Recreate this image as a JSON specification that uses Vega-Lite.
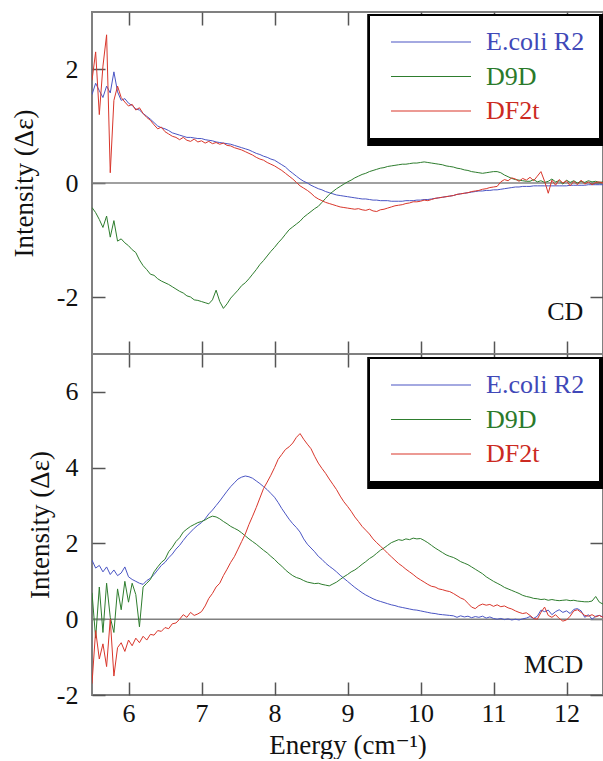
{
"$schema": "https://vega.github.io/schema/vega-lite/v6.json",
"background": "white",
"padding": {"left": 9, "top": 10, "right": 0, "bottom": 0},
"spacing": 0,
"bounds": "flush",
"config": {
  "font": "Liberation Serif, Times New Roman, DejaVu Serif, serif",
  "view": {"stroke": "#808080", "strokeWidth": 2},
  "axis": {"grid": false, "domain": false, "tickColor": "#555555", "tickWidth": 1.5, "labelFont": "Liberation Serif, Times New Roman, DejaVu Serif, serif", "labelFontSize": 26, "labelColor": "#111111", "titleFont": "Liberation Serif, Times New Roman, DejaVu Serif, serif", "titleFontSize": 27, "titleFontWeight": "normal", "titleColor": "#111111", "labelExpr": "replace(datum.label, '−', '-')"},
  "legend": {"labelFont": "Liberation Serif, Times New Roman, DejaVu Serif, serif"},
  "text": {"font": "Liberation Serif, Times New Roman, DejaVu Serif, serif"}
},
"datasets": {
"cd": [
{"e":5.50,"R2":1.55,"D9D":-0.43,"DF2t":1.80},
{"e":5.55,"R2":1.75,"D9D":-0.52,"DF2t":2.30},
{"e":5.60,"R2":1.62,"D9D":-0.64,"DF2t":1.20},
{"e":5.65,"R2":1.50,"D9D":-0.78,"DF2t":2.05},
{"e":5.70,"R2":1.70,"D9D":-0.58,"DF2t":2.60},
{"e":5.75,"R2":1.58,"D9D":-0.95,"DF2t":0.18},
{"e":5.80,"R2":1.95,"D9D":-0.66,"DF2t":1.45},
{"e":5.85,"R2":1.60,"D9D":-1.02,"DF2t":1.70},
{"e":5.90,"R2":1.45,"D9D":-0.98,"DF2t":1.50},
{"e":5.95,"R2":1.48,"D9D":-1.05,"DF2t":1.42},
{"e":6.00,"R2":1.40,"D9D":-1.10,"DF2t":1.35},
{"e":6.05,"R2":1.36,"D9D":-1.17,"DF2t":1.38},
{"e":6.10,"R2":1.30,"D9D":-1.22,"DF2t":1.28},
{"e":6.15,"R2":1.28,"D9D":-1.35,"DF2t":1.32},
{"e":6.20,"R2":1.22,"D9D":-1.45,"DF2t":1.22},
{"e":6.25,"R2":1.17,"D9D":-1.52,"DF2t":1.15},
{"e":6.30,"R2":1.12,"D9D":-1.60,"DF2t":1.10},
{"e":6.35,"R2":1.06,"D9D":-1.62,"DF2t":1.02},
{"e":6.40,"R2":1.00,"D9D":-1.68,"DF2t":0.95},
{"e":6.45,"R2":0.97,"D9D":-1.72,"DF2t":0.98},
{"e":6.50,"R2":0.95,"D9D":-1.75,"DF2t":0.90},
{"e":6.55,"R2":0.92,"D9D":-1.78,"DF2t":0.86},
{"e":6.60,"R2":0.88,"D9D":-1.82,"DF2t":0.82},
{"e":6.65,"R2":0.86,"D9D":-1.86,"DF2t":0.80},
{"e":6.70,"R2":0.84,"D9D":-1.90,"DF2t":0.76},
{"e":6.75,"R2":0.82,"D9D":-1.93,"DF2t":0.80},
{"e":6.80,"R2":0.80,"D9D":-1.98,"DF2t":0.75},
{"e":6.85,"R2":0.80,"D9D":-2.00,"DF2t":0.73},
{"e":6.90,"R2":0.79,"D9D":-2.05,"DF2t":0.77},
{"e":6.95,"R2":0.78,"D9D":-2.06,"DF2t":0.72},
{"e":7.00,"R2":0.78,"D9D":-2.08,"DF2t":0.74},
{"e":7.05,"R2":0.76,"D9D":-2.10,"DF2t":0.70},
{"e":7.10,"R2":0.75,"D9D":-2.12,"DF2t":0.73},
{"e":7.15,"R2":0.74,"D9D":-2.05,"DF2t":0.69},
{"e":7.20,"R2":0.72,"D9D":-1.88,"DF2t":0.71},
{"e":7.25,"R2":0.71,"D9D":-2.08,"DF2t":0.68},
{"e":7.30,"R2":0.70,"D9D":-2.20,"DF2t":0.70},
{"e":7.35,"R2":0.69,"D9D":-2.12,"DF2t":0.66},
{"e":7.40,"R2":0.68,"D9D":-2.02,"DF2t":0.65},
{"e":7.45,"R2":0.66,"D9D":-1.95,"DF2t":0.62},
{"e":7.50,"R2":0.64,"D9D":-1.88,"DF2t":0.60},
{"e":7.55,"R2":0.62,"D9D":-1.80,"DF2t":0.58},
{"e":7.60,"R2":0.60,"D9D":-1.75,"DF2t":0.55},
{"e":7.65,"R2":0.58,"D9D":-1.68,"DF2t":0.52},
{"e":7.70,"R2":0.55,"D9D":-1.60,"DF2t":0.49},
{"e":7.75,"R2":0.52,"D9D":-1.52,"DF2t":0.45},
{"e":7.80,"R2":0.50,"D9D":-1.43,"DF2t":0.42},
{"e":7.85,"R2":0.47,"D9D":-1.36,"DF2t":0.40},
{"e":7.90,"R2":0.45,"D9D":-1.28,"DF2t":0.36},
{"e":7.95,"R2":0.42,"D9D":-1.20,"DF2t":0.33},
{"e":8.00,"R2":0.40,"D9D":-1.13,"DF2t":0.30},
{"e":8.05,"R2":0.36,"D9D":-1.05,"DF2t":0.26},
{"e":8.10,"R2":0.32,"D9D":-0.98,"DF2t":0.22},
{"e":8.15,"R2":0.28,"D9D":-0.90,"DF2t":0.17},
{"e":8.20,"R2":0.22,"D9D":-0.82,"DF2t":0.12},
{"e":8.25,"R2":0.17,"D9D":-0.77,"DF2t":0.07},
{"e":8.30,"R2":0.12,"D9D":-0.72,"DF2t":0.01},
{"e":8.35,"R2":0.07,"D9D":-0.67,"DF2t":-0.05},
{"e":8.40,"R2":0.03,"D9D":-0.60,"DF2t":-0.09},
{"e":8.45,"R2":0.00,"D9D":-0.55,"DF2t":-0.13},
{"e":8.50,"R2":-0.04,"D9D":-0.50,"DF2t":-0.18},
{"e":8.55,"R2":-0.07,"D9D":-0.45,"DF2t":-0.24},
{"e":8.60,"R2":-0.10,"D9D":-0.41,"DF2t":-0.28},
{"e":8.65,"R2":-0.12,"D9D":-0.34,"DF2t":-0.31},
{"e":8.70,"R2":-0.15,"D9D":-0.27,"DF2t":-0.34},
{"e":8.75,"R2":-0.17,"D9D":-0.20,"DF2t":-0.36},
{"e":8.80,"R2":-0.19,"D9D":-0.15,"DF2t":-0.38},
{"e":8.85,"R2":-0.21,"D9D":-0.10,"DF2t":-0.40},
{"e":8.90,"R2":-0.22,"D9D":-0.06,"DF2t":-0.42},
{"e":8.95,"R2":-0.23,"D9D":-0.02,"DF2t":-0.43},
{"e":9.00,"R2":-0.24,"D9D":0.02,"DF2t":-0.44},
{"e":9.05,"R2":-0.25,"D9D":0.05,"DF2t":-0.45},
{"e":9.10,"R2":-0.26,"D9D":0.09,"DF2t":-0.46},
{"e":9.15,"R2":-0.27,"D9D":0.12,"DF2t":-0.45},
{"e":9.20,"R2":-0.28,"D9D":0.15,"DF2t":-0.47},
{"e":9.25,"R2":-0.28,"D9D":0.17,"DF2t":-0.48},
{"e":9.30,"R2":-0.29,"D9D":0.20,"DF2t":-0.46},
{"e":9.35,"R2":-0.30,"D9D":0.22,"DF2t":-0.49},
{"e":9.40,"R2":-0.30,"D9D":0.24,"DF2t":-0.50},
{"e":9.45,"R2":-0.31,"D9D":0.26,"DF2t":-0.47},
{"e":9.50,"R2":-0.31,"D9D":0.27,"DF2t":-0.46},
{"e":9.55,"R2":-0.31,"D9D":0.29,"DF2t":-0.44},
{"e":9.60,"R2":-0.32,"D9D":0.30,"DF2t":-0.42},
{"e":9.65,"R2":-0.32,"D9D":0.31,"DF2t":-0.40},
{"e":9.70,"R2":-0.32,"D9D":0.32,"DF2t":-0.39},
{"e":9.75,"R2":-0.32,"D9D":0.33,"DF2t":-0.38},
{"e":9.80,"R2":-0.31,"D9D":0.33,"DF2t":-0.36},
{"e":9.85,"R2":-0.31,"D9D":0.34,"DF2t":-0.35},
{"e":9.90,"R2":-0.31,"D9D":0.35,"DF2t":-0.33},
{"e":9.95,"R2":-0.30,"D9D":0.35,"DF2t":-0.33},
{"e":10.00,"R2":-0.30,"D9D":0.36,"DF2t":-0.32},
{"e":10.05,"R2":-0.29,"D9D":0.37,"DF2t":-0.30},
{"e":10.10,"R2":-0.29,"D9D":0.36,"DF2t":-0.31},
{"e":10.15,"R2":-0.28,"D9D":0.35,"DF2t":-0.29},
{"e":10.20,"R2":-0.27,"D9D":0.34,"DF2t":-0.27},
{"e":10.25,"R2":-0.26,"D9D":0.33,"DF2t":-0.26},
{"e":10.30,"R2":-0.25,"D9D":0.32,"DF2t":-0.25},
{"e":10.35,"R2":-0.24,"D9D":0.30,"DF2t":-0.24},
{"e":10.40,"R2":-0.23,"D9D":0.29,"DF2t":-0.23},
{"e":10.45,"R2":-0.22,"D9D":0.28,"DF2t":-0.22},
{"e":10.50,"R2":-0.20,"D9D":0.26,"DF2t":-0.20},
{"e":10.55,"R2":-0.19,"D9D":0.25,"DF2t":-0.19},
{"e":10.60,"R2":-0.18,"D9D":0.23,"DF2t":-0.18},
{"e":10.65,"R2":-0.17,"D9D":0.22,"DF2t":-0.17},
{"e":10.70,"R2":-0.16,"D9D":0.20,"DF2t":-0.15},
{"e":10.75,"R2":-0.15,"D9D":0.19,"DF2t":-0.14},
{"e":10.80,"R2":-0.14,"D9D":0.18,"DF2t":-0.13},
{"e":10.85,"R2":-0.14,"D9D":0.17,"DF2t":-0.11},
{"e":10.90,"R2":-0.13,"D9D":0.18,"DF2t":-0.10},
{"e":10.95,"R2":-0.13,"D9D":0.19,"DF2t":-0.08},
{"e":11.00,"R2":-0.12,"D9D":0.20,"DF2t":-0.07},
{"e":11.05,"R2":-0.12,"D9D":0.20,"DF2t":-0.06},
{"e":11.10,"R2":-0.11,"D9D":0.18,"DF2t":0.02},
{"e":11.15,"R2":-0.10,"D9D":0.14,"DF2t":0.06},
{"e":11.20,"R2":-0.09,"D9D":0.11,"DF2t":0.04},
{"e":11.25,"R2":-0.08,"D9D":0.08,"DF2t":0.09},
{"e":11.30,"R2":-0.07,"D9D":0.06,"DF2t":0.07},
{"e":11.35,"R2":-0.07,"D9D":0.05,"DF2t":0.03},
{"e":11.40,"R2":-0.06,"D9D":0.04,"DF2t":0.08},
{"e":11.45,"R2":-0.06,"D9D":0.03,"DF2t":0.05},
{"e":11.50,"R2":-0.06,"D9D":0.03,"DF2t":0.10},
{"e":11.55,"R2":-0.05,"D9D":0.06,"DF2t":0.04},
{"e":11.60,"R2":-0.05,"D9D":0.02,"DF2t":0.12},
{"e":11.65,"R2":-0.05,"D9D":0.04,"DF2t":0.20},
{"e":11.70,"R2":-0.05,"D9D":0.01,"DF2t":0.03},
{"e":11.75,"R2":-0.05,"D9D":0.03,"DF2t":-0.18},
{"e":11.80,"R2":-0.05,"D9D":0.07,"DF2t":0.05},
{"e":11.85,"R2":-0.05,"D9D":0.02,"DF2t":-0.04},
{"e":11.90,"R2":-0.05,"D9D":0.04,"DF2t":0.06},
{"e":11.95,"R2":-0.05,"D9D":-0.02,"DF2t":0.00},
{"e":12.00,"R2":-0.05,"D9D":0.05,"DF2t":0.04},
{"e":12.05,"R2":-0.04,"D9D":0.01,"DF2t":-0.05},
{"e":12.10,"R2":-0.04,"D9D":0.04,"DF2t":0.03},
{"e":12.15,"R2":-0.04,"D9D":0.00,"DF2t":-0.03},
{"e":12.20,"R2":-0.04,"D9D":0.03,"DF2t":0.05},
{"e":12.25,"R2":-0.04,"D9D":0.01,"DF2t":-0.02},
{"e":12.30,"R2":-0.03,"D9D":0.04,"DF2t":0.02},
{"e":12.35,"R2":-0.03,"D9D":0.02,"DF2t":-0.03},
{"e":12.40,"R2":-0.03,"D9D":0.03,"DF2t":0.01},
{"e":12.45,"R2":-0.03,"D9D":0.01,"DF2t":0.02},
{"e":12.50,"R2":-0.03,"D9D":0.02,"DF2t":0.00}
],
"mcd": [
{"e":5.50,"R2":1.56,"D9D":0.70,"DF2t":-1.70},
{"e":5.55,"R2":1.35,"D9D":-0.50,"DF2t":-0.30},
{"e":5.60,"R2":1.42,"D9D":0.85,"DF2t":-1.05},
{"e":5.65,"R2":1.25,"D9D":-0.35,"DF2t":-0.65},
{"e":5.70,"R2":1.38,"D9D":0.95,"DF2t":-1.25},
{"e":5.75,"R2":1.18,"D9D":0.05,"DF2t":0.00},
{"e":5.80,"R2":1.30,"D9D":-0.35,"DF2t":-1.50},
{"e":5.85,"R2":1.15,"D9D":0.80,"DF2t":-0.75},
{"e":5.90,"R2":1.22,"D9D":0.25,"DF2t":-0.62},
{"e":5.95,"R2":1.38,"D9D":1.00,"DF2t":-0.85},
{"e":6.00,"R2":1.12,"D9D":0.45,"DF2t":-0.55},
{"e":6.05,"R2":1.05,"D9D":0.95,"DF2t":-0.70},
{"e":6.10,"R2":1.00,"D9D":0.65,"DF2t":-0.50},
{"e":6.15,"R2":0.95,"D9D":-0.20,"DF2t":-0.62},
{"e":6.20,"R2":0.92,"D9D":0.85,"DF2t":-0.45},
{"e":6.25,"R2":1.02,"D9D":0.95,"DF2t":-0.55},
{"e":6.30,"R2":1.08,"D9D":1.05,"DF2t":-0.40},
{"e":6.35,"R2":1.18,"D9D":1.25,"DF2t":-0.42},
{"e":6.40,"R2":1.30,"D9D":1.38,"DF2t":-0.30},
{"e":6.45,"R2":1.42,"D9D":1.50,"DF2t":-0.32},
{"e":6.50,"R2":1.50,"D9D":1.58,"DF2t":-0.22},
{"e":6.55,"R2":1.62,"D9D":1.78,"DF2t":-0.25},
{"e":6.60,"R2":1.72,"D9D":1.90,"DF2t":-0.12},
{"e":6.65,"R2":1.85,"D9D":2.05,"DF2t":-0.10},
{"e":6.70,"R2":1.95,"D9D":2.15,"DF2t":0.00},
{"e":6.75,"R2":2.08,"D9D":2.30,"DF2t":0.12},
{"e":6.80,"R2":2.20,"D9D":2.38,"DF2t":0.05},
{"e":6.85,"R2":2.30,"D9D":2.45,"DF2t":0.18},
{"e":6.90,"R2":2.40,"D9D":2.50,"DF2t":0.10},
{"e":6.95,"R2":2.48,"D9D":2.55,"DF2t":0.14},
{"e":7.00,"R2":2.55,"D9D":2.58,"DF2t":0.20},
{"e":7.05,"R2":2.65,"D9D":2.62,"DF2t":0.35},
{"e":7.10,"R2":2.78,"D9D":2.68,"DF2t":0.55},
{"e":7.15,"R2":2.88,"D9D":2.72,"DF2t":0.68},
{"e":7.20,"R2":3.00,"D9D":2.70,"DF2t":0.85},
{"e":7.25,"R2":3.12,"D9D":2.65,"DF2t":0.95},
{"e":7.30,"R2":3.25,"D9D":2.58,"DF2t":1.15},
{"e":7.35,"R2":3.38,"D9D":2.52,"DF2t":1.32},
{"e":7.40,"R2":3.50,"D9D":2.45,"DF2t":1.50},
{"e":7.45,"R2":3.60,"D9D":2.40,"DF2t":1.65},
{"e":7.50,"R2":3.70,"D9D":2.35,"DF2t":1.85},
{"e":7.55,"R2":3.75,"D9D":2.28,"DF2t":2.05},
{"e":7.60,"R2":3.78,"D9D":2.20,"DF2t":2.25},
{"e":7.65,"R2":3.76,"D9D":2.12,"DF2t":2.50},
{"e":7.70,"R2":3.72,"D9D":2.05,"DF2t":2.72},
{"e":7.75,"R2":3.65,"D9D":1.98,"DF2t":2.95},
{"e":7.80,"R2":3.58,"D9D":1.90,"DF2t":3.20},
{"e":7.85,"R2":3.50,"D9D":1.82,"DF2t":3.45},
{"e":7.90,"R2":3.42,"D9D":1.75,"DF2t":3.62},
{"e":7.95,"R2":3.32,"D9D":1.66,"DF2t":3.80},
{"e":8.00,"R2":3.22,"D9D":1.58,"DF2t":4.00},
{"e":8.05,"R2":3.08,"D9D":1.48,"DF2t":4.22},
{"e":8.10,"R2":2.92,"D9D":1.40,"DF2t":4.35},
{"e":8.15,"R2":2.78,"D9D":1.30,"DF2t":4.48},
{"e":8.20,"R2":2.64,"D9D":1.22,"DF2t":4.55},
{"e":8.25,"R2":2.52,"D9D":1.15,"DF2t":4.65},
{"e":8.30,"R2":2.42,"D9D":1.10,"DF2t":4.80},
{"e":8.35,"R2":2.30,"D9D":1.07,"DF2t":4.90},
{"e":8.40,"R2":2.12,"D9D":1.02,"DF2t":4.75},
{"e":8.45,"R2":1.98,"D9D":0.98,"DF2t":4.62},
{"e":8.50,"R2":1.88,"D9D":0.96,"DF2t":4.50},
{"e":8.55,"R2":1.78,"D9D":0.94,"DF2t":4.30},
{"e":8.60,"R2":1.66,"D9D":0.95,"DF2t":4.12},
{"e":8.65,"R2":1.58,"D9D":0.92,"DF2t":3.98},
{"e":8.70,"R2":1.48,"D9D":0.90,"DF2t":3.85},
{"e":8.75,"R2":1.40,"D9D":0.88,"DF2t":3.70},
{"e":8.80,"R2":1.33,"D9D":0.93,"DF2t":3.56},
{"e":8.85,"R2":1.25,"D9D":0.98,"DF2t":3.42},
{"e":8.90,"R2":1.16,"D9D":1.05,"DF2t":3.25},
{"e":8.95,"R2":1.08,"D9D":1.12,"DF2t":3.10},
{"e":9.00,"R2":1.00,"D9D":1.18,"DF2t":2.98},
{"e":9.05,"R2":0.92,"D9D":1.25,"DF2t":2.85},
{"e":9.10,"R2":0.84,"D9D":1.30,"DF2t":2.70},
{"e":9.15,"R2":0.77,"D9D":1.37,"DF2t":2.58},
{"e":9.20,"R2":0.70,"D9D":1.45,"DF2t":2.45},
{"e":9.25,"R2":0.64,"D9D":1.52,"DF2t":2.35},
{"e":9.30,"R2":0.59,"D9D":1.60,"DF2t":2.25},
{"e":9.35,"R2":0.54,"D9D":1.66,"DF2t":2.12},
{"e":9.40,"R2":0.50,"D9D":1.74,"DF2t":2.02},
{"e":9.45,"R2":0.47,"D9D":1.82,"DF2t":1.93},
{"e":9.50,"R2":0.44,"D9D":1.88,"DF2t":1.84},
{"e":9.55,"R2":0.41,"D9D":1.95,"DF2t":1.74},
{"e":9.60,"R2":0.38,"D9D":2.02,"DF2t":1.65},
{"e":9.65,"R2":0.36,"D9D":2.06,"DF2t":1.56},
{"e":9.70,"R2":0.33,"D9D":2.10,"DF2t":1.47},
{"e":9.75,"R2":0.31,"D9D":2.08,"DF2t":1.40},
{"e":9.80,"R2":0.29,"D9D":2.12,"DF2t":1.32},
{"e":9.85,"R2":0.27,"D9D":2.10,"DF2t":1.25},
{"e":9.90,"R2":0.25,"D9D":2.14,"DF2t":1.18},
{"e":9.95,"R2":0.24,"D9D":2.12,"DF2t":1.10},
{"e":10.00,"R2":0.22,"D9D":2.13,"DF2t":1.04},
{"e":10.05,"R2":0.20,"D9D":2.08,"DF2t":0.98},
{"e":10.10,"R2":0.18,"D9D":2.02,"DF2t":0.92},
{"e":10.15,"R2":0.16,"D9D":1.95,"DF2t":0.87},
{"e":10.20,"R2":0.15,"D9D":1.88,"DF2t":0.85},
{"e":10.25,"R2":0.13,"D9D":1.82,"DF2t":0.80},
{"e":10.30,"R2":0.12,"D9D":1.76,"DF2t":0.78},
{"e":10.35,"R2":0.11,"D9D":1.70,"DF2t":0.75},
{"e":10.40,"R2":0.10,"D9D":1.66,"DF2t":0.73},
{"e":10.45,"R2":0.09,"D9D":1.63,"DF2t":0.68},
{"e":10.50,"R2":0.05,"D9D":1.58,"DF2t":0.62},
{"e":10.55,"R2":0.09,"D9D":1.52,"DF2t":0.56},
{"e":10.60,"R2":0.06,"D9D":1.48,"DF2t":0.52},
{"e":10.65,"R2":0.08,"D9D":1.44,"DF2t":0.42},
{"e":10.70,"R2":0.04,"D9D":1.38,"DF2t":0.32},
{"e":10.75,"R2":0.07,"D9D":1.32,"DF2t":0.28},
{"e":10.80,"R2":0.05,"D9D":1.26,"DF2t":0.36},
{"e":10.85,"R2":0.08,"D9D":1.20,"DF2t":0.40},
{"e":10.90,"R2":0.03,"D9D":1.12,"DF2t":0.37},
{"e":10.95,"R2":0.06,"D9D":1.06,"DF2t":0.39},
{"e":11.00,"R2":0.02,"D9D":1.00,"DF2t":0.34},
{"e":11.05,"R2":0.00,"D9D":0.95,"DF2t":0.38},
{"e":11.10,"R2":0.02,"D9D":0.90,"DF2t":0.33},
{"e":11.15,"R2":-0.01,"D9D":0.84,"DF2t":0.35},
{"e":11.20,"R2":0.01,"D9D":0.80,"DF2t":0.30},
{"e":11.25,"R2":-0.02,"D9D":0.76,"DF2t":0.27},
{"e":11.30,"R2":0.00,"D9D":0.72,"DF2t":0.22},
{"e":11.35,"R2":-0.02,"D9D":0.68,"DF2t":0.18},
{"e":11.40,"R2":0.01,"D9D":0.63,"DF2t":0.15},
{"e":11.45,"R2":0.03,"D9D":0.60,"DF2t":0.17},
{"e":11.50,"R2":0.07,"D9D":0.58,"DF2t":0.10},
{"e":11.55,"R2":0.02,"D9D":0.55,"DF2t":0.02},
{"e":11.60,"R2":0.08,"D9D":0.54,"DF2t":0.00},
{"e":11.65,"R2":0.24,"D9D":0.52,"DF2t":0.18},
{"e":11.70,"R2":0.20,"D9D":0.53,"DF2t":0.32},
{"e":11.75,"R2":0.24,"D9D":0.50,"DF2t":0.10},
{"e":11.80,"R2":0.12,"D9D":0.52,"DF2t":0.05},
{"e":11.85,"R2":0.20,"D9D":0.50,"DF2t":0.12},
{"e":11.90,"R2":0.25,"D9D":0.49,"DF2t":0.02},
{"e":11.95,"R2":0.18,"D9D":0.50,"DF2t":-0.05},
{"e":12.00,"R2":0.22,"D9D":0.51,"DF2t":-0.02},
{"e":12.05,"R2":0.15,"D9D":0.49,"DF2t":0.08},
{"e":12.10,"R2":0.26,"D9D":0.50,"DF2t":0.22},
{"e":12.15,"R2":0.28,"D9D":0.48,"DF2t":0.25},
{"e":12.20,"R2":0.22,"D9D":0.47,"DF2t":0.18},
{"e":12.25,"R2":0.05,"D9D":0.46,"DF2t":0.10},
{"e":12.30,"R2":0.12,"D9D":0.46,"DF2t":0.08},
{"e":12.35,"R2":0.00,"D9D":0.48,"DF2t":0.12},
{"e":12.40,"R2":0.08,"D9D":0.60,"DF2t":0.06},
{"e":12.45,"R2":0.10,"D9D":0.45,"DF2t":0.10},
{"e":12.50,"R2":0.06,"D9D":0.40,"DF2t":0.05}
]
},
"vconcat": [
{
  "width": 511, "height": 342,
  "layer": [
    {"data": {"values": [{}]}, "mark": {"type": "rule", "color": "#808080", "strokeWidth": 1.5},
     "encoding": {"y": {"datum": 0, "type": "quantitative", "scale": {"domain": [-3, 3], "nice": false, "zero": false}, "axis": null}}},
    {"data": {"name": "cd"}, "transform": [{"fold": ["R2", "D9D", "DF2t"], "as": ["s", "v"]}],
     "mark": {"type": "line", "strokeWidth": 1, "clip": true},
     "encoding": {
       "x": {"field": "e", "type": "quantitative", "scale": {"domain": [5.5, 12.5], "nice": false, "zero": false},
             "axis": {"orient": "bottom", "labels": false, "title": null, "values": [6,7,8,9,10,11,12], "tickSize": -13}},
       "y": {"field": "v", "type": "quantitative", "scale": {"domain": [-3, 3], "nice": false, "zero": false},
             "axis": {"orient": "left", "values": [-2, 0, 2], "tickSize": -13, "labelPadding": 27, "title": "Intensity (Δε)", "titlePadding": 18}},
       "color": {"field": "s", "type": "nominal",
                 "scale": {"domain": ["R2", "D9D", "DF2t"], "range": ["#4a55c4", "#2e7d2e", "#d9362b"]},
                 "legend": {"orient": "none", "legendX": 277, "legendY": 3, "title": null, "symbolType": "M-0.5,0H7.5", "symbolSize": 400, "symbolStrokeWidth": 1.2,
                            "labelFontSize": 26, "labelOffset": 77, "rowPadding": 8.5, "padding": 14, "labelLimit": 300,
                            "strokeColor": "black", "fillColor": "white",
                            "labelColor": {"expr": "datum.value == 'R2' ? '#4048b8' : datum.value == 'D9D' ? '#2a7a2a' : '#cc2a22'"},
                            "labelExpr": "datum.label == 'R2' ? 'E.coli R2' : datum.label"}}
     }},
    {"data": {"values": [{}]}, "mark": {"type": "rect", "color": "black"},
     "encoding": {"x": {"datum": 9.27, "type": "quantitative", "axis": null}, "x2": {"datum": 12.5},
                  "y": {"datum": 2.965, "type": "quantitative", "axis": null}, "y2": {"datum": 0.65}}},
    {"data": {"values": [{"t": "CD"}]}, "mark": {"type": "text", "align": "right", "baseline": "middle", "fontSize": 26, "color": "#111111"},
     "encoding": {"text": {"field": "t"},
                  "x": {"datum": 12.23, "type": "quantitative", "axis": {"orient": "top", "labels": false, "title": null, "values": [6,7,8,9,10,11,12], "tickSize": -13}},
                  "y": {"datum": -2.26, "type": "quantitative", "axis": {"orient": "right", "labels": false, "title": null, "values": [-2, 0, 2], "tickSize": -13}}}}
  ],
  "resolve": {"axis": {"x": "independent", "y": "independent"}}
},
{
  "width": 511, "height": 341,
  "layer": [
    {"data": {"values": [{}]}, "mark": {"type": "rule", "color": "#808080", "strokeWidth": 1.5},
     "encoding": {"y": {"datum": 0, "type": "quantitative", "scale": {"domain": [-2, 7], "nice": false, "zero": false}, "axis": null}}},
    {"data": {"name": "mcd"}, "transform": [{"fold": ["R2", "D9D", "DF2t"], "as": ["s", "v"]}],
     "mark": {"type": "line", "strokeWidth": 1, "clip": true},
     "encoding": {
       "x": {"field": "e", "type": "quantitative", "scale": {"domain": [5.5, 12.5], "nice": false, "zero": false},
             "axis": {"orient": "bottom", "title": "Energy (cm⁻¹)", "values": [6,7,8,9,10,11,12], "tickSize": -13, "labelPadding": 18, "titlePadding": 6}},
       "y": {"field": "v", "type": "quantitative", "scale": {"domain": [-2, 7], "nice": false, "zero": false},
             "axis": {"orient": "left", "values": [-2, 0, 2, 4, 6], "tickSize": -13, "labelPadding": 27, "title": "Intensity (Δε)", "titlePadding": 2}},
       "color": {"field": "s", "type": "nominal",
                 "scale": {"domain": ["R2", "D9D", "DF2t"], "range": ["#4a55c4", "#2e7d2e", "#d9362b"]},
                 "legend": {"orient": "none", "legendX": 277, "legendY": 4, "title": null, "symbolType": "M-0.5,0H7.5", "symbolSize": 400, "symbolStrokeWidth": 1.2,
                            "labelFontSize": 26, "labelOffset": 77, "rowPadding": 8.5, "padding": 14, "labelLimit": 300,
                            "strokeColor": "black", "fillColor": "white",
                            "labelColor": {"expr": "datum.value == 'R2' ? '#4048b8' : datum.value == 'D9D' ? '#2a7a2a' : '#cc2a22'"},
                            "labelExpr": "datum.label == 'R2' ? 'E.coli R2' : datum.label"}}
     }},
    {"data": {"values": [{}]}, "mark": {"type": "rect", "color": "black"},
     "encoding": {"x": {"datum": 9.27, "type": "quantitative", "axis": null}, "x2": {"datum": 12.5},
                  "y": {"datum": 6.92, "type": "quantitative", "axis": null}, "y2": {"datum": 3.44}}},
    {"data": {"values": [{"t": "MCD"}]}, "mark": {"type": "text", "align": "right", "baseline": "middle", "fontSize": 26, "color": "#111111"},
     "encoding": {"text": {"field": "t"},
                  "x": {"datum": 12.23, "type": "quantitative", "axis": {"orient": "top", "labels": false, "title": null, "values": [6,7,8,9,10,11,12], "tickSize": -13}},
                  "y": {"datum": -1.2, "type": "quantitative", "axis": {"orient": "right", "labels": false, "title": null, "values": [-2, 0, 2, 4, 6], "tickSize": -13}}}}
  ],
  "resolve": {"axis": {"x": "independent", "y": "independent"}}
}
],
"resolve": {"scale": {"color": "shared"}, "legend": {"color": "independent"}}
}
